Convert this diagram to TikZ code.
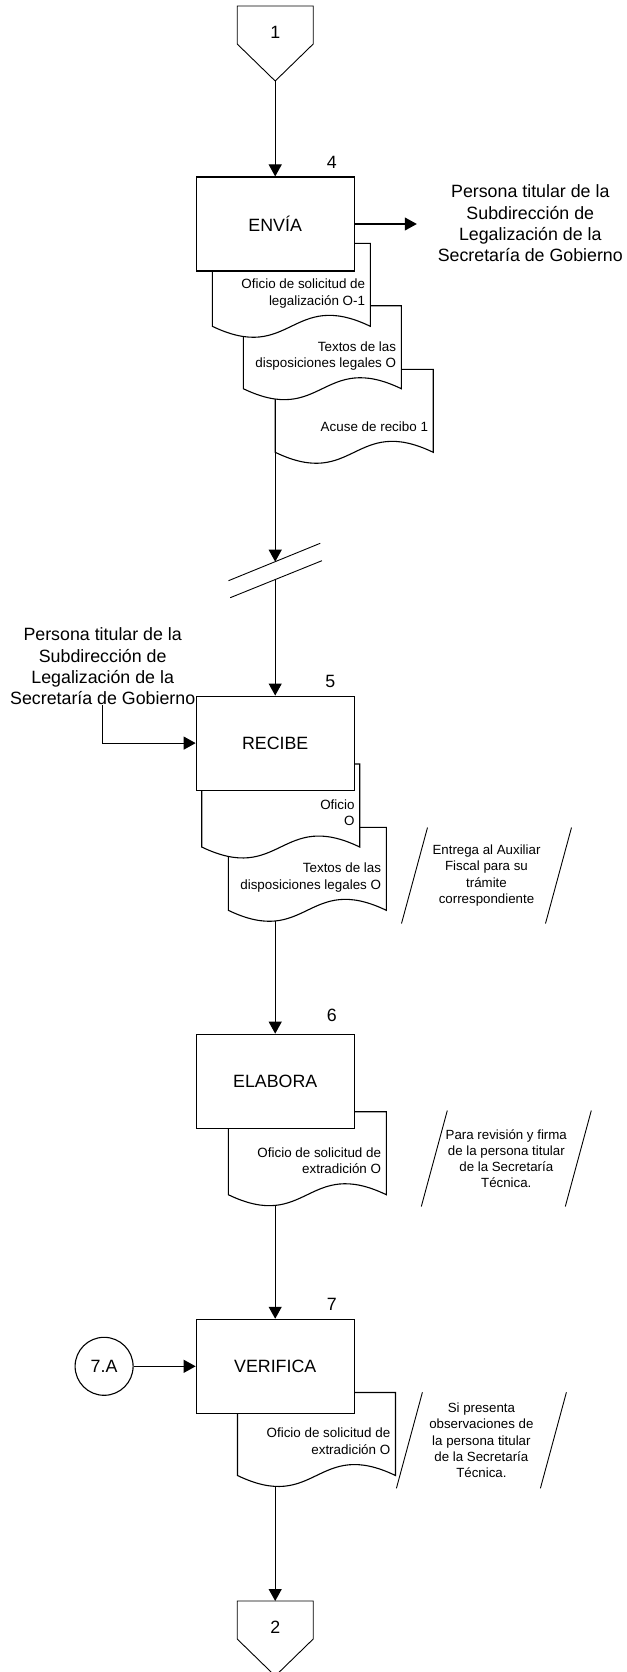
\documentclass[tikz,border=0pt]{standalone}
\usepackage{fontspec}
\setmainfont{Liberation Sans}
\usepackage{tikz}
\usetikzlibrary{arrows.meta,positioning,backgrounds}

\begin{document}
\begin{tikzpicture}[
  x=1pt, y=-1pt,
  trazo/.style={line width=1.1pt},
  box/.style={draw, line width=1.1pt, fill=white, minimum width=158pt, minimum height=94pt, font=\fontsize{17.8}{21.3}\selectfont},
  big/.style={font=\fontsize{17.8}{21.3}\selectfont, align=center, inner sep=0pt},
  num/.style={font=\fontsize{17.8}{21.3}\selectfont, inner sep=0pt},
  doctext/.style={font=\fontsize{13.4}{16.5}\selectfont, align=right, inner sep=0pt},
  nota/.style={font=\fontsize{13.3}{16.2}\selectfont, align=center, inner sep=0pt, minimum width=143.6pt, minimum height=95.6pt},
  arr/.style={-{Triangle[length=12pt,width=13pt]}, line width=1.1pt},
  doc/.pic={
    \draw[trazo, fill=white] (0,0) -- (158,0) -- (158,83)
      .. controls (79,45) and (79,121) .. (0,83) -- cycle;
    \node[doctext, anchor=south east] (-txt) at (153,67) {#1\strut};
  },
  offpage/.pic={
    \draw[line width=0.9pt] (-38,-26) -- (38,-26) -- (38,12) -- (0,49) -- (-38,12) -- cycle;
    \node[num] (-txt) at (0,0) {#1};
    \coordinate (-top) at (0,-26);
    \coordinate (-tip) at (0,49);
  }
]
\useasboundingbox (0,0) rectangle (626,1672);

% documentos
\pic (d4c) at (275.2,369.3) {doc={Acuse de recibo 1}};
\pic (d4b) at (243.3,305.7) {doc={Textos de las\\disposiciones legales O}};
\pic (d4a) at (212.3,243.3) {doc={Oficio de solicitud de\\legalización O-1}};
\pic (d5b) at (228.3,827.3) {doc={Textos de las\\disposiciones legales O}};
\pic (d5a) at (201.7,764) {doc={Oficio\\O}};
\pic (d6) at (228.3,1111.7) {doc={Oficio de solicitud de\\extradición O}};
\pic (d7) at (237.5,1392.5) {doc={Oficio de solicitud de\\extradición O}};

% actividades
\node[box] (envia) at (275.2,224) {ENVÍA};
\node[box, below=424pt of envia] (recibe) {RECIBE};
\node[box, below=243pt of recibe] (elabora) {ELABORA};
\node[box, below=190pt of elabora] (verifica) {VERIFICA};

\node[num, above=7.5pt of envia.north, xshift=56.5pt] (n4) {4};
\node[num, above=7.5pt of recibe.north, xshift=55pt] (n5) {5};
\node[num, above=12pt of elabora.north, xshift=56.5pt] (n6) {6};
\node[num, above=8.5pt of verifica.north, xshift=56.5pt] (n7) {7};

\pic (c1) at (275.2,32) {offpage=1};
\pic (c2) at (275.2,1627) {offpage=2};

\node[big] (destino) at (530.3,223.4) {Persona titular de la\\Subdirección de\\Legalización de la\\Secretaría de Gobierno};
\node[big] (origen) at (102.7,666.5) {Persona titular de la\\Subdirección de\\Legalización de la\\Secretaría de Gobierno};
\node[draw, circle, line width=1.1pt, minimum size=58pt, inner sep=0pt, font=\fontsize{17.8}{21.3}\selectfont, left=62pt of verifica] (c7a) {7.A};

\node[nota] (nota5) at (486.5,875.5) {Entrega al Auxiliar\\Fiscal para su\\trámite\\correspondiente};
\node[nota] (nota6) at (506.3,1158.5) {Para revisión y firma\\de la persona titular\\de la Secretaría\\Técnica.};
\node[nota] (nota7) at (481.4,1440.3) {Si presenta\\observaciones de\\la persona titular\\de la Secretaría\\Técnica.};
\foreach \n in {nota5,nota6,nota7} {
  \draw[line width=0.9pt] ([xshift=-13pt]\n.south west) -- ([xshift=13pt]\n.north west);
  \draw[line width=0.9pt] ([xshift=-13pt]\n.south east) -- ([xshift=13pt]\n.north east);
}

% corte
\coordinate (cut1) at (275.2,561.7);
\coordinate (cut2) at (275.2,579.5);
\draw[line width=0.9pt] ([shift={(-46.7,19)}]cut1) -- ([shift={(45,-18.4)}]cut1);
\draw[line width=0.9pt] ([shift={(-45,18.2)}]cut2) -- ([shift={(46.7,-18.8)}]cut2);

\begin{scope}[on background layer]
\draw[arr] (c1-tip) -- (envia);
\draw[arr] (envia) -- (cut1);
\draw[arr] (cut2) -- (recibe);
\draw[arr] (recibe) -- (elabora);
\draw[arr] (elabora) -- (verifica);
\draw[arr] (verifica) -- (c2-top);
\end{scope}
\draw[arr, shorten >=20.8pt] (envia.east) -- (envia.east -| destino.west);
\draw[arr] (origen.south) |- (recibe.west);
\draw[arr] (c7a) -- (verifica);
\end{tikzpicture}
\end{document}
